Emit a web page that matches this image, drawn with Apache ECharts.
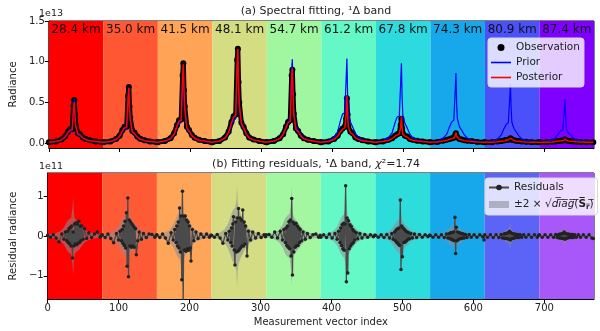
<!DOCTYPE html>
<html>
<head>
<meta charset="utf-8">
<script src="https://cdn.jsdelivr.net/npm/echarts@6.0.0/dist/echarts.min.js"></script>
<style>
  html, body { margin: 0; padding: 0; background: #fff; }
  #chart { width: 600px; height: 331px; }
</style>
</head>
<body>
<div id="chart"></div>
<script>
// band layout
const bandEdges = [0, 77, 154, 231, 308, 385, 462, 539, 616, 693, 770]
const bandLabels = ['28.4 km', '35.0 km', '41.5 km', '48.1 km', '54.7 km', '61.2 km', '67.8 km', '74.3 km', '80.9 km', '87.4 km']
const bandColorsTop = ['#ff0000', '#ff5733', '#ffa357', '#d5dd82', '#a0f7a0', '#64f8c6', '#2ddadd', '#17a8eb', '#4a50fa', '#7f00ff']
const bandColorsBottom = ['#ff0000', '#ff5a36', '#ffa55a', '#d5dd84', '#a2f7a0', '#66f9c8', '#2edcdc', '#17a8ec', '#5b64f7', '#a857f8']

// top panel (1e13), sampled at these offsets inside each band
const profOffsets = [0, 10, 18, 23, 27, 30, 33, 35, 36, 37, 38, 41, 44, 48, 52, 58, 66, 76]
const obs = [
  [0.01, 0.02, 0.045, 0.08, 0.14, 0.17, 0.17, 0.46, 0.53, 0.35, 0.22, 0.12, 0.11, 0.07, 0.05, 0.035, 0.02, 0.01],
  [0.01, 0.02, 0.05, 0.09, 0.16, 0.2, 0.2, 0.58, 0.69, 0.45, 0.31, 0.15, 0.13, 0.08, 0.055, 0.035, 0.02, 0.01],
  [0.01, 0.025, 0.06, 0.12, 0.22, 0.28, 0.29, 0.83, 0.98, 0.65, 0.45, 0.2, 0.16, 0.1, 0.065, 0.04, 0.025, 0.01],
  [0.01, 0.025, 0.07, 0.14, 0.26, 0.33, 0.35, 1.02, 1.16, 0.75, 0.5, 0.25, 0.2, 0.12, 0.07, 0.045, 0.025, 0.01],
  [0.01, 0.025, 0.06, 0.11, 0.2, 0.26, 0.28, 0.83, 0.9, 0.6, 0.36, 0.18, 0.15, 0.09, 0.06, 0.04, 0.025, 0.01],
  [0.01, 0.02, 0.05, 0.09, 0.15, 0.18, 0.2, 0.3, 0.55, 0.35, 0.2, 0.14, 0.12, 0.07, 0.05, 0.035, 0.02, 0.01],
  [0.01, 0.02, 0.04, 0.06, 0.09, 0.11, 0.12, 0.22, 0.3, 0.18, 0.12, 0.09, 0.08, 0.05, 0.04, 0.03, 0.02, 0.01],
  [0.01, 0.015, 0.03, 0.04, 0.05, 0.06, 0.065, 0.1, 0.12, 0.09, 0.07, 0.05, 0.045, 0.035, 0.03, 0.025, 0.015, 0.01],
  [0.01, 0.012, 0.02, 0.025, 0.032, 0.038, 0.042, 0.052, 0.06, 0.05, 0.042, 0.034, 0.03, 0.025, 0.02, 0.016, 0.012, 0.01],
  [0.01, 0.012, 0.016, 0.02, 0.026, 0.03, 0.033, 0.04, 0.045, 0.038, 0.032, 0.028, 0.024, 0.02, 0.017, 0.014, 0.012, 0.01]
]
const prior = [
  [0.01, 0.015, 0.035, 0.07, 0.12, 0.14, 0.15, 0.45, 0.55, 0.33, 0.2, 0.1, 0.09, 0.06, 0.04, 0.03, 0.015, 0.01],
  [0.01, 0.015, 0.04, 0.08, 0.14, 0.18, 0.18, 0.55, 0.68, 0.42, 0.28, 0.13, 0.11, 0.07, 0.045, 0.03, 0.015, 0.01],
  [0.01, 0.02, 0.05, 0.1, 0.19, 0.24, 0.26, 0.8, 0.96, 0.6, 0.4, 0.17, 0.14, 0.09, 0.055, 0.035, 0.02, 0.01],
  [0.01, 0.02, 0.06, 0.12, 0.22, 0.28, 0.3, 0.98, 1.12, 0.7, 0.45, 0.22, 0.18, 0.1, 0.06, 0.04, 0.02, 0.01],
  [0.01, 0.02, 0.06, 0.11, 0.2, 0.27, 0.3, 0.92, 1.03, 0.62, 0.38, 0.2, 0.17, 0.1, 0.06, 0.04, 0.02, 0.01],
  [0.01, 0.025, 0.07, 0.14, 0.28, 0.36, 0.37, 0.8, 1.04, 0.6, 0.38, 0.26, 0.2, 0.12, 0.07, 0.04, 0.025, 0.01],
  [0.01, 0.025, 0.07, 0.13, 0.25, 0.32, 0.33, 0.75, 0.98, 0.55, 0.34, 0.24, 0.19, 0.11, 0.065, 0.04, 0.025, 0.01],
  [0.01, 0.02, 0.06, 0.11, 0.2, 0.26, 0.28, 0.65, 0.86, 0.48, 0.3, 0.2, 0.16, 0.1, 0.06, 0.035, 0.02, 0.01],
  [0.01, 0.02, 0.05, 0.1, 0.18, 0.23, 0.25, 0.55, 0.73, 0.42, 0.26, 0.18, 0.14, 0.09, 0.05, 0.03, 0.02, 0.01],
  [0.01, 0.015, 0.035, 0.07, 0.12, 0.15, 0.16, 0.4, 0.54, 0.3, 0.18, 0.12, 0.1, 0.06, 0.04, 0.025, 0.015, 0.01]
]
const posterior = [
  [0.01, 0.02, 0.04, 0.075, 0.13, 0.16, 0.165, 0.42, 0.5, 0.33, 0.21, 0.115, 0.1, 0.065, 0.045, 0.03, 0.02, 0.01],
  [0.01, 0.02, 0.045, 0.085, 0.15, 0.19, 0.195, 0.56, 0.68, 0.43, 0.29, 0.14, 0.12, 0.075, 0.05, 0.03, 0.02, 0.01],
  [0.01, 0.025, 0.055, 0.11, 0.21, 0.27, 0.28, 0.82, 0.97, 0.63, 0.43, 0.19, 0.15, 0.095, 0.06, 0.035, 0.025, 0.01],
  [0.01, 0.025, 0.065, 0.13, 0.25, 0.32, 0.34, 1.0, 1.16, 0.73, 0.48, 0.24, 0.19, 0.11, 0.065, 0.04, 0.025, 0.01],
  [0.01, 0.025, 0.055, 0.105, 0.19, 0.25, 0.27, 0.82, 0.92, 0.6, 0.35, 0.17, 0.14, 0.085, 0.055, 0.035, 0.025, 0.01],
  [0.01, 0.02, 0.045, 0.085, 0.14, 0.17, 0.19, 0.35, 0.58, 0.36, 0.2, 0.13, 0.11, 0.065, 0.045, 0.03, 0.02, 0.01],
  [0.01, 0.02, 0.035, 0.055, 0.085, 0.1, 0.11, 0.2, 0.33, 0.18, 0.11, 0.085, 0.075, 0.045, 0.035, 0.025, 0.02, 0.01],
  [0.01, 0.015, 0.025, 0.035, 0.045, 0.055, 0.06, 0.09, 0.13, 0.085, 0.065, 0.045, 0.04, 0.03, 0.025, 0.02, 0.015, 0.01],
  [0.01, 0.012, 0.018, 0.024, 0.03, 0.035, 0.04, 0.05, 0.06, 0.045, 0.04, 0.03, 0.026, 0.022, 0.018, 0.015, 0.012, 0.01],
  [0.01, 0.012, 0.015, 0.02, 0.025, 0.028, 0.03, 0.037, 0.045, 0.036, 0.03, 0.026, 0.023, 0.02, 0.016, 0.013, 0.012, 0.01]
]
// +/- 2 sigma half width (1e11), same offsets as the profile
const sigma2 = [
  [0.04, 0.06, 0.12, 0.22, 0.35, 0.42, 0.45, 0.7, 1.0, 0.6, 0.45, 0.38, 0.35, 0.25, 0.16, 0.1, 0.06, 0.04],
  [0.04, 0.06, 0.13, 0.24, 0.38, 0.45, 0.48, 0.8, 1.15, 0.65, 0.48, 0.4, 0.36, 0.26, 0.17, 0.1, 0.06, 0.04],
  [0.04, 0.07, 0.15, 0.28, 0.45, 0.55, 0.58, 0.95, 1.35, 0.75, 0.55, 0.45, 0.4, 0.28, 0.18, 0.11, 0.07, 0.04],
  [0.04, 0.07, 0.16, 0.3, 0.5, 0.65, 0.7, 0.9, 1.3, 0.85, 0.7, 0.55, 0.45, 0.3, 0.2, 0.12, 0.07, 0.04],
  [0.04, 0.07, 0.15, 0.28, 0.45, 0.52, 0.55, 0.85, 1.25, 0.7, 0.52, 0.42, 0.36, 0.26, 0.17, 0.1, 0.06, 0.04],
  [0.04, 0.06, 0.13, 0.24, 0.4, 0.5, 0.55, 0.75, 1.0, 0.65, 0.5, 0.4, 0.32, 0.22, 0.15, 0.09, 0.06, 0.04],
  [0.04, 0.05, 0.1, 0.18, 0.3, 0.38, 0.42, 0.5, 0.6, 0.45, 0.38, 0.3, 0.25, 0.17, 0.12, 0.08, 0.05, 0.04],
  [0.03, 0.04, 0.07, 0.12, 0.2, 0.25, 0.27, 0.35, 0.45, 0.3, 0.25, 0.2, 0.16, 0.11, 0.08, 0.05, 0.04, 0.03],
  [0.03, 0.035, 0.05, 0.08, 0.12, 0.15, 0.17, 0.25, 0.35, 0.2, 0.15, 0.12, 0.1, 0.07, 0.05, 0.04, 0.035, 0.03],
  [0.03, 0.035, 0.045, 0.07, 0.1, 0.12, 0.13, 0.2, 0.3, 0.16, 0.12, 0.1, 0.08, 0.06, 0.045, 0.04, 0.035, 0.03]
]

// residuals (1e11)
const resOffsets = [0, 4, 8, 12, 16, 20, 23, 25, 27, 28, 29, 30, 31, 32, 33, 34, 35, 36, 37, 38, 39, 40, 41, 42, 43, 44, 45, 46, 47, 48, 50, 52, 55, 58, 62, 66, 70, 74, 76]
const residuals = [
  [0.02, -0.03, 0.03, -0.05, -0.15, 0.05, -0.08, 0.1, -0.12, 0.12, -0.16, 0.18, -0.2, 0.22, -0.25, 0.25, -0.55, 0.1, -0.25, 0.3, -0.2, 0.33, -0.22, 0.3, -0.18, 0.37, -0.16, 0.25, -0.12, 0.25, -0.08, 0.18, -0.06, 0.08, -0.04, 0.05, 0.1, -0.03, 0.02],
  [0.03, -0.04, 0.05, -0.06, -0.17, 0.06, -0.1, 0.12, -0.12, 0.16, -0.18, 0.25, -0.24, 0.37, -0.3, 0.58, -0.76, 0.95, -1.02, 0.4, -0.25, 0.35, -0.28, 0.3, -0.25, 0.25, -0.28, 0.2, 0.18, -0.47, -0.12, 0.1, -0.08, 0.06, -0.04, 0.05, 0.04, -0.03, 0.02],
  [0.03, -0.04, 0.05, -0.05, -0.18, 0.08, -0.1, 0.16, -0.16, 0.25, -0.25, 0.35, -0.3, 0.7, -0.4, 0.5, -1.1, 1.12, -1.7, 0.5, -0.35, 0.5, -0.38, 0.4, -0.32, 0.35, -0.36, 0.25, -0.3, -0.63, 0.16, -0.12, 0.1, -0.06, 0.05, -0.03, 0.05, -0.03, 0.02],
  [0.02, -0.03, 0.04, -0.05, -0.18, 0.06, -0.1, 0.12, -0.16, 0.2, -0.25, 0.3, 0.48, -0.35, -0.73, 0.35, -0.4, 0.45, -0.38, 0.69, -0.35, 0.45, -0.3, 0.4, -0.25, 0.65, -0.25, 0.35, -0.2, 0.25, -0.5, 0.12, -0.1, 0.1, -0.05, 0.06, -0.04, 0.03, -0.02],
  [0.03, 0.04, -0.03, 0.1, -0.05, 0.12, -0.1, 0.16, -0.16, 0.2, -0.24, 0.25, -0.28, 0.36, -0.32, 0.4, -0.5, 0.94, -0.98, 0.35, -0.4, 0.3, -0.28, 0.32, -0.24, 0.25, -0.24, 0.2, -0.16, 0.16, -0.12, 0.1, -0.08, 0.06, -0.04, 0.03, 0.05, -0.03, 0.02],
  [-0.03, 0.03, -0.04, 0.05, -0.05, 0.06, -0.08, 0.12, -0.16, 0.2, -0.24, 0.28, -0.32, 0.32, -0.36, 0.3, 1.26, -1.15, 0.45, -0.93, 0.38, -0.32, 0.28, -0.25, 0.24, -0.2, 0.16, -0.16, 0.12, -0.1, 0.08, -0.07, 0.06, -0.05, 0.04, -0.03, 0.03, -0.02, 0.02],
  [0.02, -0.03, 0.03, -0.04, 0.04, -0.05, 0.06, -0.08, 0.1, -0.12, 0.15, -0.16, 0.18, -0.2, 0.2, -0.24, 0.9, -0.84, 0.25, -0.52, 0.2, -0.16, 0.16, -0.15, 0.12, -0.12, 0.1, -0.08, 0.08, -0.07, 0.06, -0.05, 0.05, -0.04, 0.04, -0.03, 0.03, -0.02, 0.02],
  [0.02, -0.03, 0.03, -0.03, 0.03, -0.04, 0.05, -0.05, 0.06, -0.07, 0.08, -0.08, 0.09, -0.1, 0.1, -0.12, 0.47, -0.44, 0.22, -0.12, 0.1, -0.09, 0.08, -0.07, 0.07, -0.06, 0.06, -0.05, 0.05, -0.05, 0.04, -0.04, 0.04, -0.03, 0.03, -0.03, 0.03, -0.02, -0.1],
  [0.03, -0.03, 0.03, -0.04, 0.03, -0.04, 0.04, -0.05, 0.05, -0.06, 0.06, -0.06, 0.07, -0.07, 0.08, -0.08, 0.12, -0.1, 0.08, -0.07, 0.06, -0.06, 0.05, -0.05, 0.05, -0.04, 0.04, -0.04, 0.04, -0.04, 0.03, -0.03, 0.03, -0.03, 0.03, -0.03, 0.03, -0.03, 0.02],
  [0.03, -0.03, 0.03, -0.03, 0.03, -0.03, 0.04, -0.04, 0.04, -0.05, 0.05, -0.05, 0.05, -0.06, 0.06, -0.06, 0.1, -0.08, 0.06, -0.06, 0.05, -0.05, 0.05, -0.04, 0.04, -0.04, 0.04, -0.04, 0.04, -0.04, 0.03, -0.03, 0.03, -0.03, 0.03, -0.03, 0.03, -0.05, -0.06]
]

const xTicks = [0, 100, 200, 300, 400, 500, 600, 700]
const yTicksTop = [0, 0.5, 1.0, 1.5]
const yTicksBottom = [-1, 0, 1]

const FONT = 'DejaVu Sans'
const ENVELOPE = 'rgba(140,140,150,0.55)'

// band arrays -> [x, y] points
const toPoints = (offsets, bands) =>
  bands.flatMap((vals, k) => vals.map((v, j) => [bandEdges[k] + offsets[j], v]))

const bandAreas = (colors, withLabel) => colors.map((c, k) => [
  { xAxis: bandEdges[k], itemStyle: { color: c, opacity: 1 }, name: withLabel ? bandLabels[k] : '' },
  { xAxis: bandEdges[k + 1] }
])

const chart = echarts.init(document.getElementById('chart'))

const axisCommon = {
  axisLine: { show: true, onZero: false, lineStyle: { color: '#000', width: 1 } },
  axisTick: { show: true, length: 4, lineStyle: { color: '#000' } },
  splitLine: { show: false },
  axisLabel: { color: '#222', fontSize: 10, fontFamily: FONT, margin: 4 }
}
const nameStyle = { fontSize: 10, color: '#222', fontFamily: FONT }
const legendBox = {
  orient: 'vertical',
  itemWidth: 20, itemHeight: 7,
  padding: [4, 4, 4, 3],
  backgroundColor: 'rgba(255,255,255,0.8)',
  borderColor: '#d8d8d8', borderWidth: 1, borderRadius: 3
}
const lineIcon = 'path://M0,0 L20,0 L20,1.6 L0,1.6 Z'
const lineLegend = (name, color) => ({
  name, icon: lineIcon,
  itemStyle: { color, borderColor: color, borderWidth: 0 },
  lineStyle: { color, width: 0 }
})

const option = {
  animation: false,
  textStyle: { fontFamily: FONT },
  grid: [
    { left: 39, right: 6, top: 21, height: 127, show: true, borderColor: '#000', borderWidth: 1 },
    { left: 39, right: 6, top: 173, height: 126, show: true, borderColor: '#000', borderWidth: 1 }
  ],
  xAxis: [
    {
      ...axisCommon, type: 'value', gridIndex: 0, min: 0, max: 770, interval: 100,
      axisLabel: { show: false },
      axisTick: { ...axisCommon.axisTick, customValues: xTicks }
    },
    {
      ...axisCommon, type: 'value', gridIndex: 1, min: 0, max: 770, interval: 100,
      axisTick: { ...axisCommon.axisTick, customValues: xTicks },
      axisLabel: { ...axisCommon.axisLabel, customValues: xTicks },
      name: 'Measurement vector index', nameLocation: 'middle', nameGap: 18, nameTextStyle: nameStyle
    }
  ],
  yAxis: [
    {
      ...axisCommon, type: 'value', gridIndex: 0, min: -0.06, max: 1.5,
      axisTick: { ...axisCommon.axisTick, customValues: yTicksTop },
      axisLabel: { ...axisCommon.axisLabel, customValues: yTicksTop, formatter: v => v.toFixed(1) },
      name: 'Radiance', nameLocation: 'middle', nameGap: 30, nameTextStyle: nameStyle
    },
    {
      ...axisCommon, type: 'value', gridIndex: 1, min: -1.58, max: 1.58,
      axisTick: { ...axisCommon.axisTick, customValues: yTicksBottom },
      axisLabel: { ...axisCommon.axisLabel, customValues: yTicksBottom, formatter: v => (v < 0 ? '\u2212' + Math.abs(v) : String(v)) },
      name: 'Residual radiance', nameLocation: 'middle', nameGap: 25, nameTextStyle: nameStyle
    }
  ],
  legend: [
    {
      ...legendBox, left: 488, top: 38, itemGap: 4,
      data: [
        { name: 'Observation', icon: 'circle' },
        lineLegend('Prior', '#0000ff'),
        lineLegend('Posterior', '#ff0000')
      ],
      textStyle: { fontSize: 10.5, color: '#222', fontFamily: FONT }
    },
    {
      ...legendBox, left: 485, top: 178, itemGap: 6,
      data: [
        { name: 'Residuals' },
        { name: 'sigma', icon: 'rect', itemStyle: { color: 'rgba(175,175,195,1)', borderWidth: 0 } }
      ],
      formatter: name => name === 'sigma' ? '±2 × √{i|d\u0305i\u0305a\u0305g\u0305}(\u0305{b|S\u0305}{s|r\u0305})\u0305' : name,
      textStyle: {
        fontSize: 10.5, color: '#222', fontFamily: FONT,
        rich: {
          i: { fontStyle: 'italic', fontSize: 10.5, fontFamily: FONT },
          b: { fontWeight: 'bold', fontSize: 10.5, fontFamily: FONT },
          s: { fontWeight: 'bold', fontSize: 7, fontFamily: FONT, verticalAlign: 'bottom', padding: [6, 0, 0, 0] }
        }
      }
    }
  ],
  graphic: [
    { type: 'text', x: 316, y: 11, style: { text: '(a) Spectral fitting, ¹Δ band', font: '11px "DejaVu Sans"', fill: '#222', align: 'center', verticalAlign: 'middle' } },
    { type: 'text', left: 39, top: 9, style: { text: '1e13', font: '9.5px "DejaVu Sans"', fill: '#222' } },
    {
      type: 'text', x: 316, y: 164,
      style: {
        text: '(b) Fitting residuals, ¹Δ band, {i|χ}²=1.74', font: '11px "DejaVu Sans"', fill: '#222',
        align: 'center', verticalAlign: 'middle',
        rich: { i: { fontStyle: 'italic', fontSize: 11, fontFamily: FONT } }
      }
    },
    { type: 'text', left: 39, top: 162, style: { text: '1e11', font: '9.5px "DejaVu Sans"', fill: '#222' } }
  ],
  series: [
    {
      name: 'bgTop', type: 'line', xAxisIndex: 0, yAxisIndex: 0, data: [], z: 0, silent: true,
      markArea: {
        silent: true,
        label: { show: true, position: 'insideTop', distance: 3, color: '#111', fontSize: 12, fontFamily: FONT },
        data: bandAreas(bandColorsTop, true)
      }
    },
    {
      name: 'bgBottom', type: 'line', xAxisIndex: 1, yAxisIndex: 1, data: [], z: 0, silent: true,
      markArea: { silent: true, label: { show: false }, data: bandAreas(bandColorsBottom, false) }
    },
    {
      name: 'Observation', type: 'line', xAxisIndex: 0, yAxisIndex: 0, z: 2,
      data: toPoints(profOffsets, obs),
      symbol: 'circle', symbolSize: 6, showSymbol: true,
      itemStyle: { color: '#000' },
      lineStyle: { color: '#000', width: 5 }
    },
    {
      name: 'Prior', type: 'line', xAxisIndex: 0, yAxisIndex: 0, z: 3,
      data: toPoints(profOffsets, prior),
      showSymbol: false, symbol: 'none',
      itemStyle: { color: '#0000ff' },
      lineStyle: { color: '#0000ff', width: 1.2 }
    },
    {
      name: 'Posterior', type: 'line', xAxisIndex: 0, yAxisIndex: 0, z: 4,
      data: toPoints(profOffsets, posterior),
      showSymbol: false, symbol: 'none',
      itemStyle: { color: '#ff0000' },
      lineStyle: { color: '#ff0000', width: 1.5 }
    },
    {
      name: 'sigma', type: 'custom', xAxisIndex: 1, yAxisIndex: 1, z: 2,
      data: sigma2.map((_, k) => [bandEdges[k], 0, k]),
      itemStyle: { color: ENVELOPE },
      renderItem: (params, api) => {
        const k = api.value(2)
        const upper = profOffsets.map((o, j) => api.coord([bandEdges[k] + o, sigma2[k][j]]))
        const lower = profOffsets.map((o, j) => api.coord([bandEdges[k] + o, -sigma2[k][j]])).reverse()
        return {
          type: 'polygon',
          shape: { points: upper.concat(lower) },
          style: { fill: ENVELOPE }
        }
      }
    },
    {
      name: 'Residuals', type: 'line', xAxisIndex: 1, yAxisIndex: 1, z: 3,
      data: toPoints(resOffsets, residuals),
      symbol: 'circle', symbolSize: 3.5, showSymbol: true,
      itemStyle: { color: '#222' },
      lineStyle: { color: '#4a4a4a', width: 1.3 }
    }
  ]
}

chart.setOption(option)
</script>
</body>
</html>
